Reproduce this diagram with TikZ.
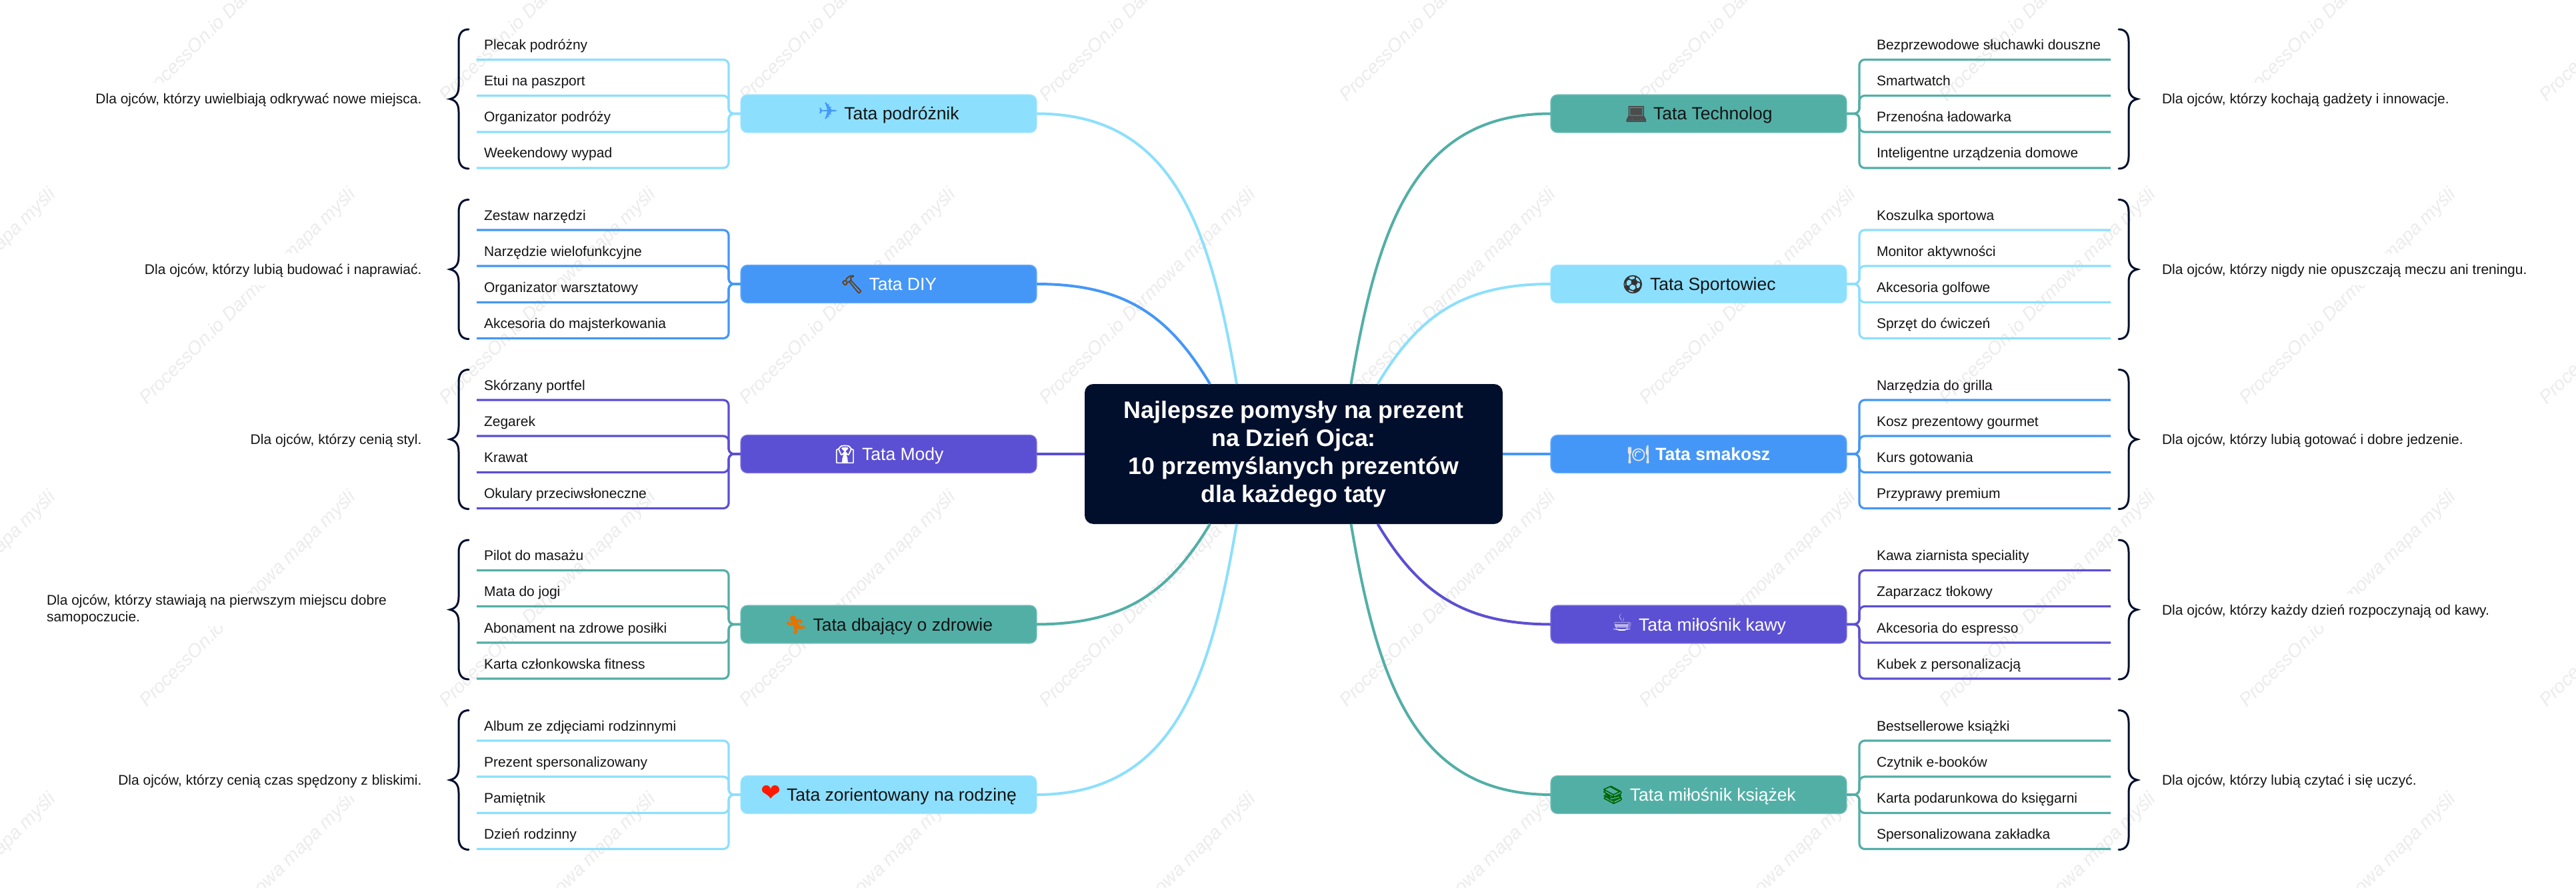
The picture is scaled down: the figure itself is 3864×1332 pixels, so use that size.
\documentclass[tikz,border=0pt]{standalone}
\usepackage{fontspec}
\usetikzlibrary{calc}
\setmainfont{Liberation Sans}
\newfontfamily\emo[FakeBold=2.5]{Noto Emoji}
\newfontfamily\solid[Scale=1.35]{DejaVu Sans}
\definecolor{cSky}{HTML}{8CDFFD}
\definecolor{cBlue}{HTML}{4597F7}
\definecolor{cPurple}{HTML}{5B4FD3}
\definecolor{cTeal}{HTML}{52AFA6}
\definecolor{cNavy}{HTML}{020F2C}
\definecolor{cInk}{HTML}{141414}
\definecolor{cMark}{HTML}{ECECEC}
\tikzset{
  x=1pt,y=-1pt,
  mark text/.style={rotate=45,anchor=base west,inner sep=0,text=cMark,font=\fontsize{28}{28}\selectfont\itshape},
  rootbox/.style={fill=cNavy,rounded corners=13,minimum width=627,minimum height=210,inner sep=0,outer sep=0,align=center,text=white,font=\fontsize{35.8}{42}\selectfont\bfseries},
  branchbox/.style={fill=#1,draw=#1!75!white,line width=1.2,rounded corners=10,minimum width=444,minimum height=57,inner sep=0,outer sep=0,text height=19,text depth=0,font=\fontsize{26.5}{30}\selectfont},
  itembox/.style={inner sep=0,outer sep=0,text height=39,text depth=15,text=cInk,font=\fontsize{21}{25}\selectfont},
  descbox/.style={fill=white,inner sep=0,outer sep=0,minimum height=48,text=cInk,font=\fontsize{21}{25}\selectfont},
  wire/.style={draw=#1,line width=3.2,rounded corners=8},
  limb/.style={draw=#1,line width=4},
  bracket/.style={draw=cNavy,line width=3,line cap=round},
}
\newcommand{\ic}[2]{{\emo\color{#1}#2}\hspace{9pt}}
\newcommand{\icsolid}[2]{{\solid\color{#1}#2}\hspace{9pt}}
% id, centre y, colour, label, description, four items
\newcommand{\groupL}[9]{%
  \node[branchbox=#3] (#1) at (1333,#2) {#4};
  \foreach \n/\dy/\t in {1/-81/{#6},2/-27/{#7},3/27.5/{#8},4/81.5/{#9}}{
    \node[itembox,anchor=south west] (#1-\n) at (715,#2+\dy) {\makebox[378pt][l]{\hspace{11pt}\t}};
    \draw[wire=#3] (#1.west) -- ++(-18,0) |- (#1-\n.south west);
  }
  \draw[bracket] (703,#2-126.5) .. controls (693,#2-126.5) and (688,#2-120) .. (688,#2-108) -- (688,#2-41)
    .. controls (688,#2-30) and (684,#2-24) .. (675,#2-22) .. controls (684,#2-20) and (688,#2-14) .. (688,#2-3)
    -- (688,#2+64) .. controls (688,#2+76) and (693,#2+82.5) .. (703,#2+82.5);
}
\newcommand{\groupR}[9]{%
  \node[branchbox=#3] (#1) at (2548,#2) {#4};
  \foreach \n/\dy/\t in {1/-81/{#6},2/-27/{#7},3/27.5/{#8},4/81.5/{#9}}{
    \node[itembox,anchor=south west] (#1-\n) at (2789,#2+\dy) {\makebox[377pt][l]{\hspace{26pt}\t}};
    \draw[wire=#3] (#1.east) -- ++(19,0) |- (#1-\n.south east);
  }
  \draw[bracket] (3178,#2-126.5) .. controls (3188,#2-126.5) and (3193,#2-120) .. (3193,#2-108) -- (3193,#2-41)
    .. controls (3193,#2-30) and (3197,#2-24) .. (3206,#2-22) .. controls (3197,#2-20) and (3193,#2-14) .. (3193,#2-3)
    -- (3193,#2+64) .. controls (3193,#2+76) and (3188,#2+82.5) .. (3178,#2+82.5);
  \node[descbox,anchor=west,text height=15,text depth=0] (#1-d) at (3243,#2-22) {#5};
}
\newcommand{\descL}[3]{\node[descbox,anchor=east,text height=15,text depth=0] (#1-d) at (632.5,#2-22) {#3};}
\begin{document}
\begin{tikzpicture}
\useasboundingbox (0,0) rectangle (3864,1332);
\fill[white] (0,0) rectangle (3864,1332);
% watermark
\foreach \sy [count=\r] in {154,608,1062,1515}{
  \foreach \k in {-1,...,8}{
    \node[mark text] (wm\r-\k) at ({220+450*\k},\sy) {ProcessOn.io Darmowa mapa myśli};
  }
}
\node[rootbox] (root) at (1940.5,681) {Najlepsze pomysły na prezent\\na Dzień Ojca:\\10 przemyślanych prezentów\\dla każdego taty};
\coordinate (rNL) at ($(root.north west)+(228,0)$);
\coordinate (rNl) at ($(root.north west)+(188,0)$);
\coordinate (rNR) at ($(root.north west)+(399.5,0)$);
\coordinate (rNr) at ($(root.north west)+(439.5,0)$);
\coordinate (rSL) at ($(root.south west)+(228,0)$);
\coordinate (rSl) at ($(root.south west)+(188,0)$);
\coordinate (rSR) at ($(root.south west)+(399.5,0)$);
\coordinate (rSr) at ($(root.south west)+(439.5,0)$);

\groupL{a}{170.5}{cSky}{\icsolid{cBlue}{✈}\textcolor{cInk}{Tata podróżnik}}{}{Plecak podróżny}{Etui na paszport}{Organizator podróży}{Weekendowy wypad}
\descL{a}{170.5}{Dla ojców, którzy uwielbiają odkrywać nowe miejsca.}
\groupL{b}{426}{cBlue}{\ic{black!50!brown}{🔨}\textcolor{white}{Tata DIY}}{}{Zestaw narzędzi}{Narzędzie wielofunkcyjne}{Organizator warsztatowy}{Akcesoria do majsterkowania}
\descL{b}{426}{Dla ojców, którzy lubią budować i naprawiać.}
\groupL{c}{681}{cPurple}{\ic{white}{👔}\textcolor{white}{Tata Mody}}{}{Skórzany portfel}{Zegarek}{Krawat}{Okulary przeciwsłoneczne}
\descL{c}{681}{Dla ojców, którzy cenią styl.}
\groupL{d}{936.5}{cTeal}{\ic{orange!90!black}{🏃}\textcolor{cInk}{Tata dbający o zdrowie}}{}{Pilot do masażu}{Mata do jogi}{Abonament na zdrowe posiłki}{Karta członkowska fitness}
\node[descbox,anchor=west,align=left] (d-d) at (70,914.5) {Dla ojców, którzy stawiają na pierwszym miejscu dobre\\samopoczucie.};
\groupL{e}{1192}{cSky}{\icsolid{red!80!orange}{❤}\textcolor{cInk}{Tata zorientowany na rodzinę}}{}{Album ze zdjęciami rodzinnymi}{Prezent spersonalizowany}{Pamiętnik}{Dzień rodzinny}
\descL{e}{1192}{Dla ojców, którzy cenią czas spędzony z bliskimi.}

\groupR{f}{170.5}{cTeal}{\ic{black!70}{💻}\textcolor{cInk}{Tata Technolog}}{Dla ojców, którzy kochają gadżety i innowacje.}{Bezprzewodowe słuchawki douszne}{Smartwatch}{Przenośna ładowarka}{Inteligentne urządzenia domowe}
\groupR{g}{426}{cSky}{\ic{black!80}{⚽}\textcolor{cInk}{Tata Sportowiec}}{Dla ojców, którzy nigdy nie opuszczają meczu ani treningu.}{Koszulka sportowa}{Monitor aktywności}{Akcesoria golfowe}{Sprzęt do ćwiczeń}
\groupR{h}{681}{cBlue}{\ic{white!90!black}{🍽}\textcolor{white}{\bfseries Tata smakosz}}{Dla ojców, którzy lubią gotować i dobre jedzenie.}{Narzędzia do grilla}{Kosz prezentowy gourmet}{Kurs gotowania}{Przyprawy premium}
\groupR{i}{936.5}{cPurple}{\icsolid{white}{☕}\textcolor{white}{Tata miłośnik kawy}}{Dla ojców, którzy każdy dzień rozpoczynają od kawy.}{Kawa ziarnista speciality}{Zaparzacz tłokowy}{Akcesoria do espresso}{Kubek z personalizacją}
\groupR{j}{1192}{cTeal}{\ic{green!40!black}{📚}\textcolor{white}{Tata miłośnik książek}}{Dla ojców, którzy lubią czytać i się uczyć.}{Bestsellerowe książki}{Czytnik e-booków}{Karta podarunkowa do księgarni}{Spersonalizowana zakładka}

% limbs
\draw[limb=cSky] (a.east) .. controls (1760,170.5) and (1815,340) .. (rNL);
\draw[limb=cBlue] (b.east) .. controls (1690,426) and (1755,476) .. (rNl);
\draw[limb=cPurple] (c.east) -- (root.west);
\draw[limb=cTeal] (d.east) .. controls (1690,936) and (1755,886) .. (rSl);
\draw[limb=cSky] (e.east) .. controls (1760,1191.5) and (1815,1022) .. (rSL);
\draw[limb=cTeal] (f.west) .. controls (2121.5,170.5) and (2066.5,340) .. (rNR);
\draw[limb=cSky] (g.west) .. controls (2191.5,426) and (2126.5,476) .. (rNr);
\draw[limb=cBlue] (h.west) -- (root.east);
\draw[limb=cPurple] (i.west) .. controls (2191.5,936) and (2126.5,886) .. (rSr);
\draw[limb=cTeal] (j.west) .. controls (2121.5,1191.5) and (2066.5,1022) .. (rSR);
\end{tikzpicture}
\end{document}
